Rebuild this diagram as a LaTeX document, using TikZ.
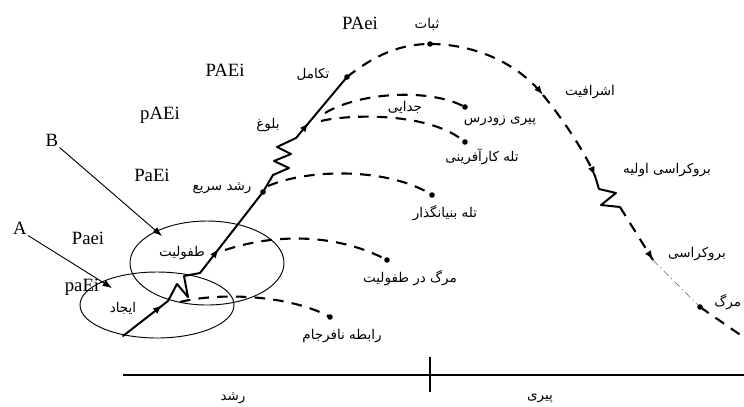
\documentclass[tikz,border=0pt]{standalone}
\usepackage{fontspec}
\setmainfont{Liberation Serif}
\newfontfamily\arabicfont[Script=Arabic]{DejaVu Sans}
\TeXXeTstate=1
\usepackage{tikz}
\usetikzlibrary{arrows.meta, decorations.markings}

\newcommand{\fatext}[1]{{\arabicfont\beginR #1\endR}}

\tikzset{
  growth/.style={line width=1.7pt, line join=round, line cap=round},
  decline/.style={line width=1.8pt, dash pattern=on 9pt off 7pt},
  fadeline/.style={line width=0.6pt, gray, dash pattern=on 6pt off 3pt on 1pt off 3pt},
  zoneline/.style={line width=0.8pt},
  pointer/.style={line width=0.8pt, -{Latex[length=8pt,width=6pt]}},
  tip at/.style={postaction={decorate, decoration={markings,
      mark=at position #1 with {\arrow{Latex[length=8pt,width=6pt]}}}}},
  stagelbl/.style={inner sep=1pt, font=\fontsize{11.5}{13}\selectfont},
  codelbl/.style={inner sep=1pt, font=\fontsize{16}{18}\selectfont},
}

\begin{document}
\begin{tikzpicture}[x=0.03cm, y=-0.03cm]
    \useasboundingbox (0,0) rectangle (744,406);

    % stage points on the life curve
    \coordinate (birth) at (123,336);
    \coordinate (ijad) at (168,301);
    \coordinate (tofuliat) at (200,273);
    \coordinate (rapid) at (263,192);
    \coordinate (bulugh) at (296,138);
    \coordinate (takamol) at (347,77);
    \coordinate (sobat) at (430,44);
    \coordinate (ashraf) at (543,95);
    \coordinate (bureauA) at (595,176);
    \coordinate (bureauB) at (620,207);
    \coordinate (bureau) at (653,260);
    \coordinate (death) at (700,307);
    \coordinate (edge) at (752,343);

    % end points of the failure branches
    \coordinate (zodras) at (465,107);
    \coordinate (karafarin) at (465,142);
    \coordinate (bonyan) at (432,195);
    \coordinate (margTof) at (387,260);
    \coordinate (rabeteh) at (330,317);

    % the two circles
    \draw[zoneline] (207,263) ellipse [x radius=77, y radius=42];
    \draw[zoneline] (157,305) ellipse [x radius=77, y radius=33];

    % growth part (solid)
    \draw[growth, tip at=0.88] (birth) -- (ijad);
    \draw[growth] (ijad) -- (177,284) -- (188,297) -- (184,276) -- (tofuliat);
    \draw[growth, tip at=0.3] (tofuliat) -- (rapid);
    \fill (rapid) circle (2.8);
    \draw[growth] (rapid) -- (273,175) -- (289,168) -- (274,161) -- (291,154)
        -- (277,147) -- (bulugh);
    \draw[growth, tip at=0.25] (bulugh) -- (takamol);
    \fill (takamol) circle (2.8);

    % aging part (dashed)
    \draw[decline] (takamol) .. controls (375,55) and (400,44) .. (sobat);
    \fill (sobat) circle (2.8);
    \draw[decline, tip at=1] (sobat) .. controls (470,44) and (515,60) .. (ashraf);
    \draw[decline, tip at=1] (ashraf) .. controls (562,118) and (585,152) .. (bureauA);
    \draw[growth] (bureauA) -- (599,189) -- (616,193) -- (601,205) -- (bureauB);
    \draw[decline, tip at=1] (bureauB) -- (bureau);
    \draw[fadeline] (bureau) -- (death);
    \fill (death) circle (2.8);
    \draw[decline] (death) -- (edge);

    % failure branches
    \draw[decline] (325,113) .. controls (360,92) and (430,88) .. (zodras);
    \draw[decline] (321,121) .. controls (350,114) and (430,112) .. (karafarin);
    \draw[decline] (268,186) .. controls (310,168) and (390,168) .. (bonyan);
    \draw[decline] (225,250) .. controls (280,232) and (340,235) .. (margTof);
    \draw[decline] (180,302) .. controls (220,292) and (290,295) .. (rabeteh);
    \foreach \p in {zodras, karafarin, bonyan, margTof, rabeteh}
        \fill (\p) circle (2.8);

    % time axis
    \coordinate (axisL) at (123,375);
    \coordinate (axisR) at (744,375);
    \draw[line width=1.5pt] (axisL) -- (axisR);
    \draw[line width=1.5pt] (430,357) -- (430,392);
    \node[stagelbl] (lblRoshd) at (233,398) {\fatext{رشد}};
    \node[stagelbl] (lblPiri) at (540,398) {\fatext{پیری}};

    % stage names
    \node[stagelbl] (lblSobat) at (427,24) {\fatext{ثبات}};
    \node[stagelbl] (lblTakamol) at (313,74) {\fatext{تکامل}};
    \node[stagelbl] (lblBulugh) at (268,125) {\fatext{بلوغ}};
    \node[stagelbl] (lblJodai) at (405,107) {\fatext{جدایی}};
    \node[stagelbl] (lblZodras) at (500,121) {\fatext{پیری زودرس}};
    \node[stagelbl] (lblKarafarin) at (482,157) {\fatext{تله کارآفرینی}};
    \node[stagelbl] (lblRapid) at (222,188) {\fatext{رشد سریع}};
    \node[stagelbl] (lblBonyan) at (445,213) {\fatext{تله بنیانگذار}};
    \node[stagelbl] (lblTofuliat) at (182,253) {\fatext{طفولیت}};
    \node[stagelbl] (lblIjad) at (123,308) {\fatext{ایجاد}};
    \node[stagelbl] (lblMargTof) at (410,278) {\fatext{مرگ در طفولیت}};
    \node[stagelbl] (lblRabeteh) at (342,336) {\fatext{رابطه نافرجام}};
    \node[stagelbl] (lblAshraf) at (590,92) {\fatext{اشرافیت}};
    \node[stagelbl] (lblBureauA) at (667,170) {\fatext{بروکراسی اولیه}};
    \node[stagelbl] (lblBureau) at (697,254) {\fatext{بروکراسی}};
    \node[stagelbl, anchor=west] (lblDeath) at (713,302) {\fatext{مرگ}};

    % PAEI codes
    \node[codelbl] (cPAei) at (360,23) {PAei};
    \node[codelbl] (cPAEi) at (225,70) {PAEi};
    \node[codelbl] (cpAEi) at (160,115) {pAEi};
    \node[codelbl] (cPaEi) at (152,175) {PaEi};
    \node[codelbl] (cPaei) at (88,238) {Paei};
    \node[codelbl] (cpaEi) at (82,287) {paEi};

    % pointers A and B
    \node[codelbl] (A) at (20,228) {A};
    \node[codelbl] (B) at (52,140) {B};
    \coordinate (aTip) at (112,288);
    \coordinate (bTip) at (162,236);
    \draw[pointer] (A.south east) -- (aTip);
    \draw[pointer] (B.south east) -- (bTip);
\end{tikzpicture}
\end{document}
